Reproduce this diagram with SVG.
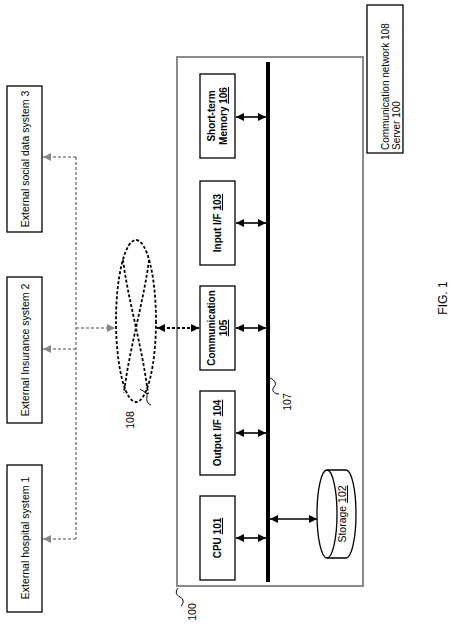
<svg xmlns="http://www.w3.org/2000/svg" width="474" height="637" viewBox="0 0 474 637">
<style>
text{font-family:"Liberation Sans",Arial,sans-serif;fill:#000}
.ext{font-size:10.5px}
.comp{font-size:10px;font-weight:bold}
.lbl{font-size:10.5px}
.box{fill:#fff;stroke:#000;stroke-width:1.3}
.gd{fill:none;stroke:#888;stroke-width:1.6;stroke-dasharray:3 2}
.bd{fill:none;stroke:#000;stroke-width:1.8;stroke-dasharray:3 2}
.ar{fill:none;stroke:#000;stroke-width:1.6}
.sq{fill:none;stroke:#000;stroke-width:1}
</style>
<defs>
<marker id="ab" viewBox="0 0 10 10" refX="10" refY="5" markerWidth="8" markerHeight="8" markerUnits="userSpaceOnUse" orient="auto-start-reverse"><path d="M0,0 L10,5 L0,10 z" fill="#000"/></marker>
<marker id="ag" viewBox="0 0 10 10" refX="10" refY="5" markerWidth="8" markerHeight="8" markerUnits="userSpaceOnUse" orient="auto-start-reverse"><path d="M0,0 L10,5 L0,10 z" fill="#888"/></marker>
</defs>
<rect width="474" height="637" fill="#fff"/>

<g id="ext3"><rect class="box" x="7" y="86" width="35" height="146"/><text class="ext" text-anchor="middle" transform="translate(28.5,159) rotate(-90)">External social data system 3</text></g>
<g id="ext2"><rect class="box" x="7" y="277" width="35" height="146"/><text class="ext" text-anchor="middle" transform="translate(28.5,350) rotate(-90)">External Insurance system 2</text></g>
<g id="ext1"><rect class="box" x="7" y="465" width="35" height="147"/><text class="ext" text-anchor="middle" transform="translate(28.5,538) rotate(-90)">External hospital system 1</text></g>

<g id="network108">
<ellipse class="bd" cx="136" cy="321" rx="20" ry="81"/>
<path class="bd" d="M123,260 C128,300 143,350 148,394"/>
<path class="bd" d="M149,260 C144,300 129,350 124,393"/>
<path class="sq" d="M140,389 c4,3 8,3 7,8 c-1,4 1,7 4,8"/>
<text class="lbl" text-anchor="middle" transform="translate(134,420) rotate(-90)">108</text>
</g>

<g id="server100">
<rect x="177" y="57" width="186" height="529" fill="none" stroke="#8a8a8a" stroke-width="2"/>
<path class="sq" d="M178,588 c-3,4 -2,7 2,9 c4,2 4,6 1,9"/>
<text class="lbl" text-anchor="middle" transform="translate(196,612) rotate(-90)">100</text>
</g>

<g id="bus107">
<line x1="268" y1="62" x2="268" y2="582" stroke="#000" stroke-width="4"/>
<path class="sq" d="M270,378 c5,2 7,6 4,9 c-3,3 0,7 5,7"/>
<text class="lbl" text-anchor="middle" transform="translate(291,402) rotate(-90)">107</text>
</g>

<g id="mem106"><rect class="box" x="200" y="74" width="35" height="84"/><text class="comp" text-anchor="middle" transform="translate(215,116) rotate(-90)">Short-term</text><text class="comp" text-anchor="middle" transform="translate(227,116) rotate(-90)">Memory <tspan text-decoration="underline">106</tspan></text></g>
<g id="in103"><rect class="box" x="200" y="181" width="35" height="84"/><text class="comp" text-anchor="middle" transform="translate(221,223) rotate(-90)">Input I/F <tspan text-decoration="underline">103</tspan></text></g>
<g id="comm105"><rect class="box" x="200" y="286" width="35" height="84"/><text class="comp" text-anchor="middle" transform="translate(215,328) rotate(-90)">Communication</text><text class="comp" text-anchor="middle" transform="translate(227,328) rotate(-90)"><tspan text-decoration="underline">105</tspan></text></g>
<g id="out104"><rect class="box" x="200" y="391" width="35" height="84"/><text class="comp" text-anchor="middle" transform="translate(221,433) rotate(-90)">Output I/F <tspan text-decoration="underline">104</tspan></text></g>
<g id="cpu101"><rect class="box" x="200" y="496" width="35" height="84"/><text class="comp" text-anchor="middle" transform="translate(221,538) rotate(-90)">CPU <tspan text-decoration="underline">101</tspan></text></g>

<g id="storage102">
<path d="M327,470 H346 A10,44 0 0 1 346,558 H327" fill="#fff" stroke="#000" stroke-width="1.3"/>
<ellipse cx="327" cy="514" rx="10" ry="44" fill="#fff" stroke="#000" stroke-width="1.3"/>
<text class="lbl" text-anchor="middle" transform="translate(346,514) rotate(-90)">Storage <tspan text-decoration="underline">102</tspan></text>
</g>

<g id="legend"><rect class="box" x="367" y="5" width="36" height="148"/><text style="font-size:10px" transform="translate(389,150) rotate(-90)">Communication network 108</text><text style="font-size:10px" transform="translate(400,150) rotate(-90)">Server 100</text></g>

<text id="fig" style="font-size:12px" text-anchor="middle" transform="translate(447,298) rotate(-90)">FIG. 1</text>

<g id="connectors">
<path class="gd" d="M76,157 V539"/>
<line class="gd" x1="76" y1="157" x2="43" y2="157" marker-end="url(#ag)"/>
<line class="gd" x1="76" y1="349" x2="43" y2="349" marker-end="url(#ag)"/>
<line class="gd" x1="76" y1="539" x2="43" y2="539" marker-end="url(#ag)"/>
<line class="gd" x1="76" y1="328" x2="115" y2="328" marker-end="url(#ag)"/>
<line class="bd" x1="157" y1="328" x2="199" y2="328" marker-start="url(#ab)" marker-end="url(#ab)"/>
<line class="ar" x1="236" y1="117" x2="266" y2="117" marker-start="url(#ab)" marker-end="url(#ab)"/>
<line class="ar" x1="236" y1="223" x2="266" y2="223" marker-start="url(#ab)" marker-end="url(#ab)"/>
<line class="ar" x1="236" y1="328" x2="266" y2="328" marker-start="url(#ab)" marker-end="url(#ab)"/>
<line class="ar" x1="236" y1="433" x2="266" y2="433" marker-start="url(#ab)" marker-end="url(#ab)"/>
<line class="ar" x1="236" y1="538" x2="266" y2="538" marker-start="url(#ab)" marker-end="url(#ab)"/>
<line class="ar" x1="270" y1="519" x2="317" y2="519" marker-start="url(#ab)" marker-end="url(#ab)"/>
</g>
</svg>
